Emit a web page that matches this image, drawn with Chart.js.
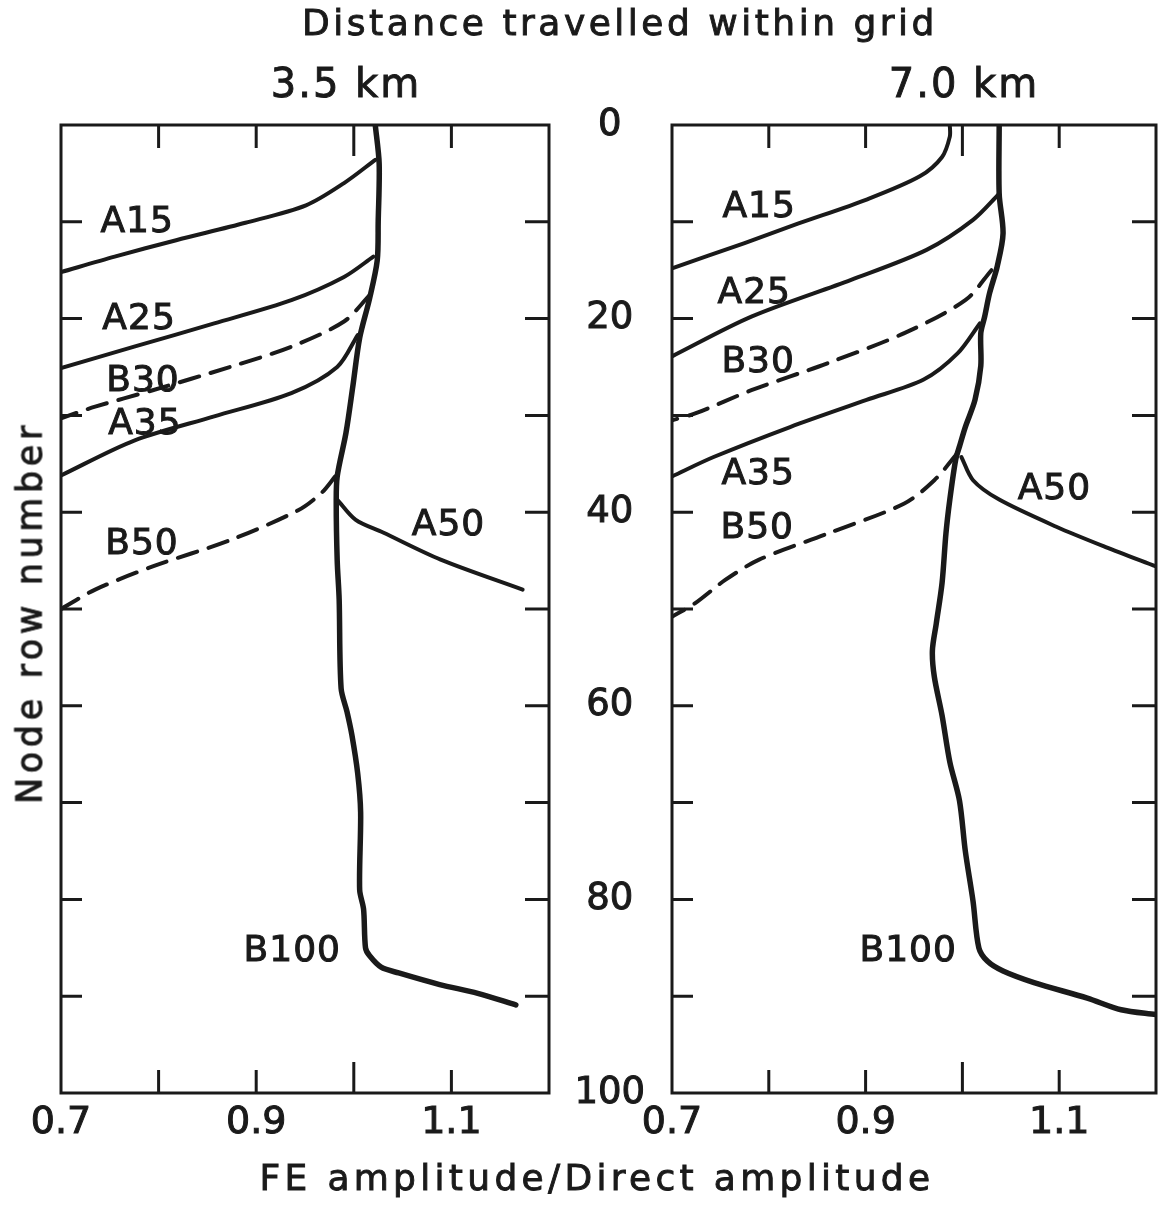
<!DOCTYPE html>
<html>
<head>
<meta charset="utf-8">
<script src="https://cdn.jsdelivr.net/npm/chart.js@4.4.1/dist/chart.umd.min.js"></script>
<style>
  html, body { margin: 0; padding: 0; background: #fff; }
  #page { position: relative; width: 1163px; height: 1205px; overflow: hidden; background: #fff;
          font-family: 'DejaVu Sans', sans-serif; color: #1a1a1a; }
  #page canvas { position: absolute; top: 0; }
  #left-panel { left: 0; }
  #right-panel { left: 560px; }
  .caption { position: absolute; text-align: center; white-space: nowrap; line-height: 1;
             -webkit-text-stroke: 0.9px #1a1a1a; }
  #main-title { left: 170px; width: 900px; top: 5px; font-size: 36px; letter-spacing: 3.5px; }
  #left-title { left: 246px; width: 200px; top: 63px; font-size: 40px; letter-spacing: 2px; }
  #right-title { left: 864px; width: 200px; top: 63px; font-size: 40px; letter-spacing: 2px; }
  #x-title { left: 147px; width: 900px; top: 1160px; font-size: 36px; letter-spacing: 4.3px; }
  #y-title { left: -220px; width: 500px; top: 595px; height: 35px; font-size: 35px; letter-spacing: 4.6px;
             transform: rotate(-90deg); }
</style>
</head>
<body>
<div id="page">
  <canvas id="left-panel" width="575" height="1205"></canvas>
  <canvas id="right-panel" width="603" height="1205"></canvas>
  <div class="caption" id="main-title">Distance travelled within grid</div>
  <div class="caption" id="left-title"></div>
  <div class="caption" id="right-title"></div>
  <div class="caption" id="x-title">FE amplitude/Direct amplitude</div>
  <div class="caption" id="y-title">Node row number</div>
</div>
<script>
const INK = '#1a1a1a';

const panelTitles = ['3.5 km', '7.0 km'];
const xTicks = [0.7, 0.8, 0.9, 1.0, 1.1, 1.2];
const xTickLabels = ['0.7', '', '0.9', '', '1.1', ''];
const yTicks = [0, 10, 20, 30, 40, 50, 60, 70, 80, 90, 100];
const yTickLabels = ['0', '', '20', '', '40', '', '60', '', '80', '', '100'];

const curveNames = ['B100', 'A15', 'A25', 'B30', 'A35', 'B50', 'A50'];
const dashedCurves = ['B30', 'B50'];

// 3.5 km panel, points are [FE/direct amplitude, node row]
const km35B100 = [[1.022, 0], [1.026, 4], [1.025, 10], [1.024, 14], [1.016, 18], [1.006, 22], [0.999, 27],
  [0.992, 31.8], [0.983, 36.3], [0.982, 39], [0.983, 45], [0.985, 49], [0.987, 58.2], [0.993, 60.6],
  [0.998, 63], [1.004, 67], [1.007, 71], [1.006, 79], [1.010, 81], [1.012, 85], [1.016, 85.8],
  [1.028, 87], [1.046, 87.6], [1.088, 88.8], [1.127, 89.7], [1.166, 90.9]];
const km35A15 = [[1.022, 3.6], [0.990, 6.0], [0.951, 8.3], [0.889, 10.1], [0.818, 11.9], [0.755, 13.6], [0.70, 15.2]];
const km35A25 = [[1.020, 13.6], [0.990, 15.7], [0.936, 18.1], [0.857, 20.5], [0.775, 22.9], [0.70, 25.1]];
const km35B30 = [[1.016, 17.6], [0.990, 20.3], [0.936, 22.9], [0.873, 25.0], [0.794, 27.4], [0.735, 29.1], [0.70, 30.3]];
const km35A35 = [[1.004, 21.7], [0.983, 25.0], [0.936, 27.7], [0.857, 30.1], [0.775, 32.6], [0.70, 36.2]];
const km35B50 = [[0.981, 36.3], [0.967, 38.0], [0.943, 39.8], [0.873, 42.9], [0.794, 45.6], [0.735, 48.0], [0.70, 50.0]];
const km35A50 = [[0.983, 38.7], [1.002, 40.8], [1.030, 42.1], [1.089, 44.9], [1.173, 48.0]];
const km35LabelAt = [[0.937, 85.4], [0.778, 10.1], [0.780, 20.1], [0.784, 26.5], [0.786, 31.0], [0.783, 43.3], [1.097, 41.4]];

// 7.0 km panel
const km70B100 = [[1.038, 0], [1.038, 7.1], [1.042, 11.2], [1.036, 14.6], [1.028, 17.4], [1.023, 19.8],
  [1.019, 21.5], [1.019, 24.9], [1.013, 28.4], [1.003, 31.2], [0.997, 33.2], [0.993, 34.6], [0.987, 38.7],
  [0.983, 42.2], [0.979, 47.3], [0.973, 51.5], [0.969, 54.3], [0.971, 57.0], [0.979, 61.0], [0.987, 65.8],
  [0.997, 69.8], [1.003, 75.0], [1.011, 80.2], [1.017, 85.0], [1.026, 86.4], [1.042, 87.4], [1.074, 88.6],
  [1.129, 90.2], [1.164, 91.4], [1.2, 91.9]];
const km70A15 = [[0.987, 0], [0.987, 1.2], [0.979, 3.3], [0.956, 5.3], [0.901, 7.7], [0.830, 10.2], [0.775, 12.2], [0.70, 14.8]];
const km70A25 = [[1.038, 7.1], [1.011, 9.8], [0.963, 12.9], [0.885, 16.0], [0.782, 19.8], [0.70, 23.9]];
const km70B30 = [[1.030, 15.0], [1.003, 18.1], [0.940, 21.5], [0.861, 24.6], [0.782, 27.4], [0.724, 29.8], [0.70, 30.5]];
const km70A35 = [[1.018, 20.5], [0.995, 23.6], [0.960, 26.3], [0.901, 28.4], [0.822, 31.2], [0.743, 34.3], [0.70, 36.3]];
const km70B50 = [[0.995, 33.9], [0.971, 36.7], [0.940, 39.1], [0.861, 42.2], [0.790, 44.9], [0.755, 47.0], [0.724, 49.4], [0.70, 50.8]];
const km70A50 = [[0.999, 34.3], [1.011, 36.7], [1.038, 38.7], [1.097, 41.5], [1.148, 43.6], [1.2, 45.6]];
const km70LabelAt = [[0.944, 85.4], [0.790, 8.5], [0.785, 17.4], [0.789, 24.6], [0.789, 36.1], [0.788, 41.7], [1.095, 37.7]];

// frame with inward ticks on all four sides, plus the curve names
function framePlugin(labelAt) {
  return {
    id: 'frame',
    afterDraw(chart) {
      const { ctx, chartArea: a, scales: { x, y } } = chart;
      ctx.save();
      ctx.strokeStyle = INK;
      ctx.lineWidth = 3;
      ctx.lineCap = 'butt';
      ctx.strokeRect(a.left, a.top, a.right - a.left, a.bottom - a.top);
      ctx.beginPath();
      xTicks.slice(1, -1).forEach((v) => {
        const px = x.getPixelForValue(v);
        const len = v === 1.0 ? 31 : 23;
        ctx.moveTo(px, a.top);
        ctx.lineTo(px, a.top + len);
        ctx.moveTo(px, a.bottom);
        ctx.lineTo(px, a.bottom - len);
      });
      yTicks.slice(1, -1).forEach((v) => {
        const py = y.getPixelForValue(v);
        ctx.moveTo(a.left, py);
        ctx.lineTo(a.left + 21, py);
        ctx.moveTo(a.right, py);
        ctx.lineTo(a.right - 24, py);
      });
      ctx.stroke();

      ctx.fillStyle = INK;
      ctx.font = '36px "DejaVu Sans"';
      ctx.letterSpacing = '1px';
      ctx.lineWidth = 1;
      ctx.textAlign = 'center';
      ctx.textBaseline = 'middle';
      curveNames.forEach((name, i) => {
        const [vx, vy] = labelAt[i];
        const px = x.getPixelForValue(vx);
        const py = y.getPixelForValue(vy);
        ctx.fillText(name, px, py);
        ctx.strokeText(name, px, py);
      });
      ctx.restore();
    },
  };
}

function buildPanel(canvasId, series, labelAt, opts) {
  const datasets = curveNames.map((name, i) => ({
    label: name,
    data: series[i].map(([vx, vy]) => ({ x: vx, y: vy })),
    showLine: true,
    borderColor: INK,
    borderWidth: name === 'B100' ? 5.5 : 4,
    borderDash: dashedCurves.includes(name) ? [20, 12] : [],
    borderCapStyle: 'round',
    pointRadius: 0,
    tension: 0.3,
    fill: false,
  }));

  return new Chart(document.getElementById(canvasId), {
    type: 'scatter',
    data: { datasets },
    options: {
      responsive: false,
      animation: false,
      devicePixelRatio: 1,
      layout: { padding: { top: 125, right: opts.rightPad, left: 0, bottom: 0 } },
      plugins: { legend: { display: false }, tooltip: { enabled: false } },
      scales: {
        x: {
          type: 'linear',
          min: 0.7,
          max: 1.2,
          afterBuildTicks: (s) => { s.ticks = xTicks.map((v) => ({ value: v })); },
          afterFit: (s) => { s.height = 112; },
          grid: { display: false, drawTicks: false },
          border: { display: false },
          ticks: {
            callback: (v, i) => xTickLabels[i],
            color: INK,
            textStrokeColor: INK,
            textStrokeWidth: 1,
            font: { family: 'DejaVu Sans', size: 38 },
            padding: 7,
            maxRotation: 0,
            autoSkip: false,
          },
        },
        y: {
          type: 'linear',
          reverse: true,
          min: 0,
          max: 100,
          afterBuildTicks: (s) => { s.ticks = yTicks.map((v) => ({ value: v })); },
          afterFit: (s) => { s.width = opts.yWidth; },
          grid: { display: false, drawTicks: false },
          border: { display: false },
          ticks: {
            display: opts.showRows,
            callback: (v, i) => yTickLabels[i],
            color: INK,
            textStrokeColor: INK,
            textStrokeWidth: 1,
            font: { family: 'DejaVu Sans', size: 37 },
            crossAlign: 'center',
            padding: 27,
            autoSkip: false,
          },
        },
      },
    },
    plugins: [framePlugin(labelAt)],
  });
}

document.getElementById('left-title').textContent = panelTitles[0];
document.getElementById('right-title').textContent = panelTitles[1];

buildPanel('left-panel',
  [km35B100, km35A15, km35A25, km35B30, km35A35, km35B50, km35A50],
  km35LabelAt, { rightPad: 26, yWidth: 61, showRows: false });

buildPanel('right-panel',
  [km70B100, km70A15, km70A25, km70B30, km70A35, km70B50, km70A50],
  km70LabelAt, { rightPad: 2, yWidth: 112, showRows: true });
</script>
</body>
</html>
